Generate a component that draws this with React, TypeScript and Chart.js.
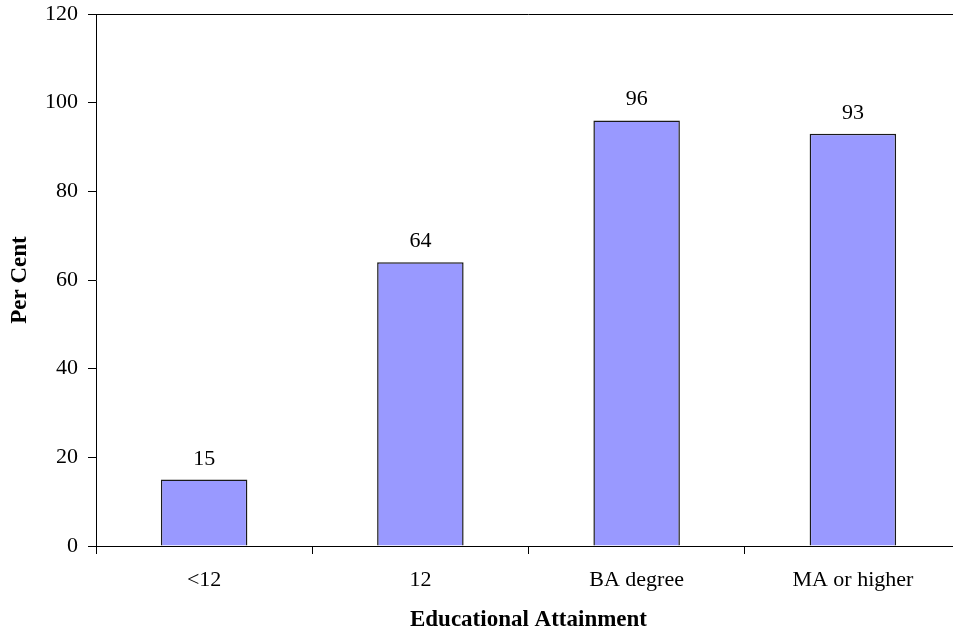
import React, { useEffect, useRef } from "react";
import { Chart, registerables } from "chart.js";

Chart.register(...registerables);

const categories = ["<12", "12", "BA degree", "MA or higher"];
const values = [15, 64, 96, 93];
const yTicks = [0, 20, 40, 60, 80, 100, 120];

const FONT = "'Liberation Serif', 'Times New Roman', serif";

const topLinePlugin = {
  id: "topLine",
  afterDraw(chart: any) {
    const { ctx, chartArea } = chart;
    ctx.save();
    ctx.strokeStyle = "#000";
    ctx.lineWidth = 1;
    ctx.beginPath();
    ctx.moveTo(chartArea.left, Math.round(chartArea.top) + 0.5);
    ctx.lineTo(chart.width, Math.round(chartArea.top) + 0.5);
    ctx.stroke();
    ctx.restore();
  },
};

const valueLabelPlugin = {
  id: "valueLabels",
  afterDatasetsDraw(chart: any) {
    const { ctx } = chart;
    const meta = chart.getDatasetMeta(0);
    ctx.save();
    ctx.fillStyle = "#000";
    ctx.font = `22px ${FONT}`;
    ctx.textAlign = "center";
    ctx.textBaseline = "alphabetic";
    meta.data.forEach((bar: any, i: number) => {
      ctx.fillText(String(values[i]), bar.x, bar.y - 15);
    });
    ctx.restore();
  },
};

export default function App() {
  const ref = useRef<HTMLCanvasElement>(null);
  useEffect(() => {
    if (!ref.current) return;
    const chart = new Chart(ref.current, {
      type: "bar",
      data: {
        labels: categories,
        datasets: [
          {
            data: values,
            backgroundColor: "#9999FF",
            borderColor: "#1a1a1a",
            borderWidth: 1.5,
            barPercentage: 0.4,
            categoryPercentage: 1.0,
          },
        ],
      },
      options: {
        responsive: false,
        animation: false,
        layout: { padding: { top: 14, left: 0, right: 0, bottom: 0 } },
        plugins: {
          legend: { display: false },
          tooltip: { enabled: false },
        },
        scales: {
          x: {
            grid: {
              drawOnChartArea: false,
              drawTicks: true,
              tickLength: 8,
              color: "#000",
              offset: true,
            },
            border: { display: true, color: "#000", width: 1 },
            ticks: {
              color: "#000",
              font: { family: FONT, size: 22 },
              padding: 13,
              maxRotation: 0,
            },
            title: {
              display: true,
              text: "Educational Attainment",
              color: "#000",
              font: { family: FONT, size: 23, weight: "bold" },
              padding: { top: 0, bottom: -2 },
            },
            afterFit(scale: any) {
              scale.height = 86;
              scale.paddingLeft = 0;
              scale.paddingRight = 0;
            },
          },
          y: {
            min: 0,
            max: 120,
            afterBuildTicks(scale: any) {
              scale.ticks = yTicks.map((v) => ({ value: v }));
            },
            grid: {
              drawOnChartArea: false,
              drawTicks: true,
              tickLength: 8,
              color: "#000",
            },
            border: { display: true, color: "#000", width: 1 },
            ticks: {
              color: "#000",
              font: { family: FONT, size: 22 },
              padding: 10,
            },
            title: {
              display: true,
              text: "Per Cent",
              color: "#000",
              font: { family: FONT, size: 23, weight: "bold" },
              padding: { top: 6, bottom: 0 },
            },
            afterFit(scale: any) {
              scale.width = 96;
              scale.paddingTop = 0;
              scale.paddingBottom = 0;
            },
          },
        },
      },
      plugins: [topLinePlugin, valueLabelPlugin],
    });
    return () => chart.destroy();
  }, []);

  return (
    <div
      style={{
        position: "fixed",
        left: 0,
        top: 0,
        width: 953,
        height: 632,
        overflow: "hidden",
        background: "#fff",
      }}
    >
      <canvas ref={ref} width={961} height={632} style={{ display: "block" }} />
    </div>
  );
}
